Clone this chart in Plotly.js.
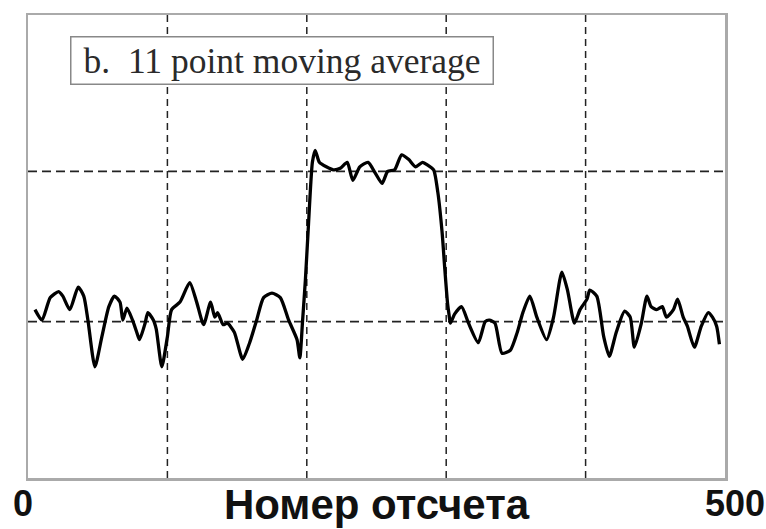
<!DOCTYPE html>
<html>
<head>
<meta charset="utf-8">
<script src="https://cdn.plot.ly/plotly-3.0.1.min.js"></script>
<style>html,body{margin:0;padding:0;background:#fff;}#chart{width:766px;height:529px;}</style>
</head>
<body>
<div id="chart"></div>
<script>
const sampleIndex = [5,10,16,22,25,30,36,40,43,48,53,58,62,66,68,71,75,78,80,84,86,90,92,96,100,
  103,109,116,121,126,131,134,136,140,143,148,154,159,164,169,175,181,187,193,195,197,199,201,204,
  206,209,214,219,224,229,233,238,244,249,254,258,263,268,273,278,283,287,291,294,297,299,301,302,
  303,306,311,316,323,328,331,335,340,346,351,355,360,365,372,377,383,387,392,396,401,
  403,408,413,417,422,428,432,435,440,444,447,451,455,458,463,466,470,473,478,483,488,491,494,496];
const movingAverage = [0.08,0.01,0.16,0.20,0.17,0.08,0.23,0.17,0.01,-0.30,-0.10,0.10,0.17,0.13,0.01,0.09,0.01,-0.07,-0.12,-0.01,0.06,0.01,-0.05,-0.30,-0.10,
  0.08,0.13,0.26,0.13,-0.02,0.13,0.03,0.06,-0.02,-0.01,-0.07,-0.25,-0.14,0.01,0.16,0.19,0.16,0.01,-0.12,-0.24,0.01,0.28,0.61,1.06,
  1.14,1.06,1.03,1.01,1.02,1.06,0.94,1.03,1.06,0.99,0.92,1.00,1.01,1.11,1.08,1.03,1.06,1.04,1.01,0.86,0.60,0.35,0.12,0.05,
  -0.01,0.05,0.10,-0.01,-0.14,0.00,0.01,-0.01,-0.21,-0.19,-0.07,0.06,0.17,0.03,-0.12,0.03,0.33,0.21,-0.01,0.08,0.15,
  0.21,0.17,-0.10,-0.23,-0.07,0.07,0.03,-0.17,-0.01,0.17,0.10,0.08,0.10,0.03,0.08,0.15,0.03,-0.03,-0.17,-0.03,0.06,0.03,-0.03,-0.15];
const xTickValues = [0, 500];
const xTickLabels = ['0', '500'];
const gridX = [100, 200, 300, 400];
const gridY = [0, 1];
const panelLabel = 'b.\u00a0\u00a011 point moving average';
const xTitle = 'Номер отсчета';

const trace = {
  x: sampleIndex, y: movingAverage, type: 'scatter', mode: 'lines',
  line: {color: '#000', width: 3.3, shape: 'spline', smoothing: 0.6},
  hoverinfo: 'skip', showlegend: false
};

const shapes = [];
gridX.forEach(v => shapes.push({type:'line', xref:'x', yref:'paper', x0:v, x1:v, y0:0, y1:1,
  line:{color:'#222', width:1.5, dash:'7px,5px'}, layer:'below'}));
gridY.forEach(v => shapes.push({type:'line', xref:'paper', yref:'y', x0:0, x1:1, y0:v, y1:v,
  line:{color:'#222', width:1.6, dash:'9px,5px'}, layer:'below'}));

const annotations = [
  {xref:'x', yref:'paper', x:xTickValues[0], y:-0.056, xshift:-5, xanchor:'center', yanchor:'middle',
   text:'<b>'+xTickLabels[0]+'</b>', showarrow:false, font:{family:'Liberation Sans, Arial, sans-serif', size:36, color:'#111'}},
  {xref:'x', yref:'paper', x:xTickValues[1], y:-0.056, xshift:42, xanchor:'right', yanchor:'middle',
   text:'<b>'+xTickLabels[1]+'</b>', showarrow:false, font:{family:'Liberation Sans, Arial, sans-serif', size:36, color:'#111'}},
  {xref:'paper', yref:'paper', x:0.06, y:0.955, xanchor:'left', yanchor:'top',
   text:panelLabel, showarrow:false, align:'center', width:419, height:44,
   bgcolor:'#fff', bordercolor:'#888', borderwidth:1.5, borderpad:1,
   font:{family:'Liberation Serif, Times New Roman, serif', size:35.5, color:'#2a2a2a'}}
];

const layout = {
  width: 766, height: 529,
  margin: {l: 28, r: 41, t: 15, b: 51},
  paper_bgcolor: '#fff', plot_bgcolor: '#fff',
  xaxis: {range: [0, 500], showgrid: false, zeroline: false, showticklabels: false,
    showline: true, mirror: true, linecolor: '#aaa', linewidth: 2.5, ticks: '',
    title: {text: '<b>' + xTitle + '</b>', standoff: 10,
      font: {family: 'Liberation Sans, Arial, sans-serif', size: 42, color: '#111'}}},
  yaxis: {range: [-1.04, 2.04], showgrid: false, zeroline: false, showticklabels: false,
    showline: true, mirror: true, linecolor: '#aaa', linewidth: 2.5, ticks: ''},
  shapes: shapes,
  annotations: annotations
};

Plotly.newPlot('chart', [trace], layout, {displayModeBar: false, staticPlot: true});
</script>
</body>
</html>
